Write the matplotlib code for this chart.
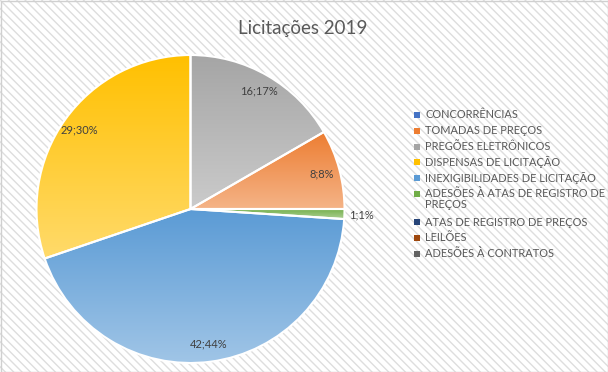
import numpy as np
import matplotlib.pyplot as plt
from matplotlib.colors import to_rgb
from matplotlib.patches import Rectangle

plt.rcParams['font.family'] = ['Lato', 'DejaVu Sans']
plt.rcParams['hatch.linewidth'] = 1.0

categorias = ["CONCORRÊNCIAS", "TOMADAS DE PREÇOS", "PREGÕES ELETRÔNICOS",
              "DISPENSAS DE LICITAÇÃO", "INEXIGIBILIDADES DE LICITAÇÃO",
              "ADESÕES À ATAS DE REGISTRO DE\nPREÇOS", "ATAS DE REGISTRO DE PREÇOS",
              "LEILÕES", "ADESÕES À CONTRATOS"]
valores = [0, 8, 16, 29, 42, 1, 0, 0, 0]
cores = ["#4472C4", "#ED7D31", "#A5A5A5", "#FFC000", "#5B9BD5",
         "#70AD47", "#264478", "#9E480E", "#636363"]
# ordem das fatias no sentido horario a partir das 12h
ordem = [2, 1, 5, 4, 3]

W, H = 608, 372
fig = plt.figure(figsize=(W / 100, H / 100), dpi=100)

# fundo hachurado + borda
fig.patches.append(Rectangle((0, 0), 1, 1, transform=fig.transFigure, facecolor="white",
                             edgecolor="#DEDEDE", hatch="\\\\\\\\", linewidth=0, zorder=-10))
fig.patches.append(Rectangle((0.5 / W, 0.5 / H), 1 - 1 / W, 1 - 1 / H, transform=fig.transFigure,
                             fill=False, edgecolor="#D0D0D0", linewidth=1, zorder=10))

# eixo da pizza (centro ~ (190.5, 209) px, raio 154 px)
cx, cy, r = 190.5, 209, 154
L = 1.05
s = 2 * r * L
ax = fig.add_axes([(cx - s / 2) / W, (H - cy - s / 2) / H, s / W, s / H])

vals = [valores[i] for i in ordem]
total = sum(valores)
wedges, _ = ax.pie(vals, startangle=90, counterclock=False, radius=1,
                   colors=[cores[i] for i in ordem],
                   wedgeprops=dict(edgecolor="white", linewidth=1.5))
ax.set_xlim(-L, L)
ax.set_ylim(-L, L)
ax.set_aspect("equal")

# gradiente vertical em cada fatia
for w, i in zip(wedges, ordem):
    base = np.array(to_rgb(cores[i]))
    claro = base + (1 - base) * 0.42
    t = np.linspace(0, 1, 256)[:, None, None]
    grad = base * (1 - t) + claro * t
    bb = w.get_path().get_extents(w.get_transform())
    bb = bb.transformed(ax.transData.inverted())
    ax.imshow(grad, extent=[bb.x0, bb.x1, bb.y0, bb.y1], origin="upper",
              aspect="auto", zorder=1, clip_path=w, interpolation="bilinear")
    w.set_facecolor("none")
    w.set_zorder(2)
ax.set_xlim(-L, L)
ax.set_ylim(-L, L)
ax.set_aspect("equal")

# rotulos de dados
for w, i in zip(wedges, ordem):
    ang = np.deg2rad((w.theta1 + w.theta2) / 2)
    dist = 1.11 if valores[i] / total < 0.03 else 0.885
    pct = round(100 * valores[i] / total)
    ax.text(dist * np.cos(ang), dist * np.sin(ang), f"{valores[i]};{pct}%",
            ha="center", va="center", fontsize=8, color="#404040", zorder=5)

fig.text(303 / W, 1 - 28.5 / H, "Licitações 2019", ha="center", va="center",
         fontsize=13.5, color="#595959")

# legenda
y = 115
for nome, cor in zip(categorias, cores):
    fig.patches.append(Rectangle((414 / W, 1 - (y + 3) / H), 6 / W, 6 / H,
                                 transform=fig.transFigure, facecolor=cor, edgecolor="none"))
    if "\n" in nome:
        fig.text(425 / W, 1 - (y - 6.5) / H, nome, ha="left", va="top",
                 fontsize=7.9, color="#595959", linespacing=1.1)
        y += 28
    else:
        fig.text(425 / W, 1 - y / H, nome, ha="left", va="center",
                 fontsize=7.9, color="#595959")
        y += 15.8

fig.savefig("out.png", dpi=100)
